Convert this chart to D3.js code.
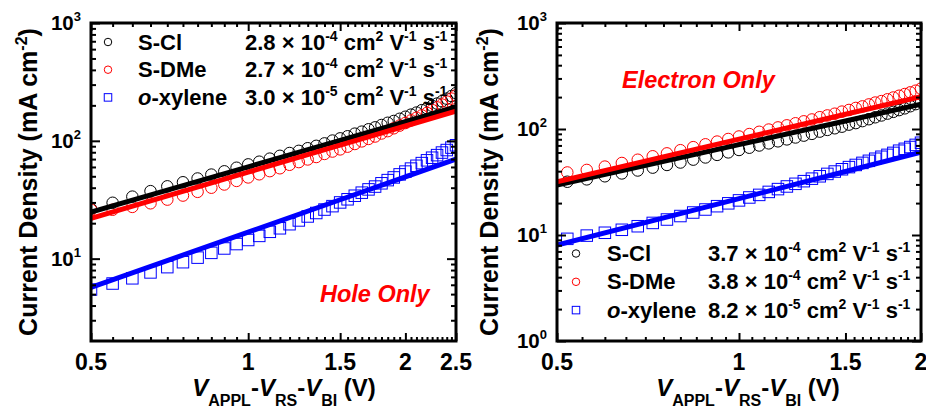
<!DOCTYPE html>
<html><head><meta charset="utf-8">
<script src="https://cdn.jsdelivr.net/npm/d3@7/dist/d3.min.js"></script>
<style>
body{margin:0;background:#fff}
svg text{font-family:"Liberation Sans",Arial,Helvetica,sans-serif;font-weight:bold}
</style></head><body>
<svg id="c" width="926" height="413"></svg>
<script>
// ---------- Hole-only panel data ----------
const holeVoltage = [0.50,0.55,0.60,0.65,0.70,0.75,0.80,0.85,0.90,0.95,1.00,1.05,1.10,1.15,1.20,1.25,1.30,1.35,1.40,1.45,1.50,1.55,1.60,1.65,1.70,1.75,1.80,1.85,1.90,1.95,2.00,2.05,2.10,2.15,2.20,2.25,2.30,2.35,2.40,2.45,2.50];
const holeSCl = [26.5,29.8,33.6,37.4,41.1,44.5,47.9,51.7,55.1,59.1,63.1,66.5,70.6,74.6,78.8,82.2,86.5,90.7,95.1,100.5,104.9,109.3,115.0,119.6,125.3,130.1,136.2,142.3,147.4,153.8,160.1,166.9,173.7,182.1,189.4,198.2,207.1,216.7,228.0,239.9,254.1];
const holeSDMe = [26.0,26.0,27.5,29.5,31.7,34.3,36.9,40.0,42.6,45.7,48.9,52.0,55.3,58.5,62.6,66.0,69.5,72.9,77.4,81.1,84.6,89.2,94.0,98.9,103.8,108.8,115.4,120.8,127.7,134.6,141.6,149.1,156.8,164.3,172.6,182.4,192.2,203.0,215.4,228.2,243.4];
const holeOXylene = [5.47,6.15,6.81,7.64,8.47,9.33,10.2,11.2,12.2,13.3,14.4,15.6,16.9,18.1,19.6,21.1,22.8,24.4,26.1,27.9,30.0,31.9,34.2,36.3,38.7,40.9,43.6,46.4,48.9,51.9,54.8,58.1,61.4,64.7,68.3,71.9,75.6,79.5,83.5,87.6,91.7];
const holeFitVoltage = [0.5,1.0,1.5,2.0,2.5];
const holeFitSCl = [24.8,60.1,100.9,145.5,194];
const holeFitSDMe = [22.0,54.3,92.0,133.6,179];
const holeFitOXylene = [5.70,16.79,31.61,49.39,70.0];

// ---------- Electron-only panel data ----------
const elecVoltage = [0.52,0.56,0.60,0.64,0.68,0.72,0.76,0.80,0.84,0.88,0.92,0.96,1.00,1.04,1.08,1.12,1.16,1.20,1.24,1.28,1.32,1.36,1.40,1.44,1.48,1.52,1.56,1.60,1.64,1.68,1.72,1.76,1.80,1.84,1.88,1.92,1.96,2.00];
const elecSCl = [31.8,33.5,35.8,38.1,40.6,43.2,45.8,48.3,51.4,53.9,57.0,60.2,63.4,66.6,69.9,73.2,76.5,79.8,83.2,86.6,90.0,94.5,98.1,101.6,105.2,110.0,113.7,118.7,123.7,129.0,134.2,139.7,145.2,150.8,156.6,164.0,171.7,179.6];
const elecSDMe = [38.9,41.1,44.2,47.8,51.3,55.3,58.9,63.1,67.4,71.7,76.1,80.5,85.0,89.6,94.1,98.8,103.5,108.3,113.2,118.1,123.0,129.2,134.3,139.4,145.9,151.2,158.0,163.4,170.5,177.6,183.3,190.6,198.2,205.9,213.7,221.7,229.9,240.4];
const elecOXylene = [9.20,9.87,10.5,11.2,12.1,13.0,14.0,15.1,16.3,17.4,18.7,19.9,21.2,22.6,23.9,25.5,27.1,28.7,30.4,32.2,34.0,35.8,37.7,39.7,41.7,43.7,45.8,47.9,50.1,52.4,54.7,57.0,59.5,62.4,65.0,67.6,70.8,74.2];
const elecFitVoltage = [0.5,1.0,1.5,2.0];
const elecFitSCl = [29.6,71.2,118.9,171];
const elecFitSDMe = [31.8,80.2,137.6,202];
const elecFitOXylene = [8.05,22.03,39.7,60.3];

// ---------- labels ----------
const seriesNames = ["S-Cl","S-DMe","o-xylene"];
const seriesColors = ["#000000","#ff0000","#0000ff"];
const seriesShapes = ["circle","circle","square"];
const holeMobility = [["2.8","-4"],["2.7","-4"],["3.0","-5"]];
const elecMobility = [["3.7","-4"],["3.8","-4"],["8.2","-5"]];
const holeXTicks = [0.5,1,1.5,2,2.5];
const holeXTickLabels = ["0.5","1","1.5","2","2.5"];
const elecXTicks = [0.5,1,1.5,2];
const elecXTickLabels = ["0.5","1","1.5","2"];
const holeYExps = [1,2,3];
const elecYExps = [0,1,2,3];

const svg = d3.select("#c");

function rich(sel, parts, size, subSize, shift) {
  let cur = 0;
  parts.forEach(p => {
    const t = sel.append("tspan").text(p.t);
    let target = 0, fs = size;
    if (p.sup) { target = -shift; fs = subSize; }
    if (p.sub) { target = shift * 0.7; fs = subSize; }
    t.attr("font-size", fs);
    if (target !== cur) { t.attr("dy", target - cur); cur = target; }
    if (p.it) t.attr("font-style", "italic");
  });
}

function drawMarker(g, shape, color, cx, cy, size) {
  if (shape === "circle") {
    g.append("circle").attr("cx", cx).attr("cy", cy).attr("r", size / 2)
      .attr("fill", "none").attr("stroke", color).attr("stroke-width", 1);
  } else {
    g.append("rect").attr("x", cx - size / 2).attr("y", cy - size / 2)
      .attr("width", size).attr("height", size)
      .attr("fill", "none").attr("stroke", color).attr("stroke-width", 1);
  }
}

function panel(p) {
  const x = d3.scaleLog().domain(p.xDomain).range([p.x0, p.x1]);
  const y = d3.scaleLog().domain(p.yDomain).range([p.y1, p.y0]);
  const g = svg.append("g");
  const clip = "clip" + p.id;
  svg.append("clipPath").attr("id", clip).append("rect")
    .attr("x", p.x0).attr("y", p.y0).attr("width", p.x1 - p.x0).attr("height", p.y1 - p.y0);
  const data = g.append("g").attr("clip-path", `url(#${clip})`);

  // markers
  p.series.forEach((s, i) => {
    s.vals.forEach((v, k) => {
      drawMarker(data, seriesShapes[i], seriesColors[i], x(p.volt[k]), y(v), 11.5);
    });
  });
  // fit lines
  p.fits.forEach((f, i) => {
    const line = d3.line().x(d => x(d[0])).y(d => y(d[1]));
    data.append("path").datum(p.fitV.map((v, k) => [v, f[k]]))
      .attr("d", line).attr("fill", "none").attr("stroke", seriesColors[i])
      .attr("stroke-width", 5);
  });

  // ticks
  const xMinor = d3.range(Math.round(p.xDomain[0] * 20), Math.round(p.xDomain[1] * 20) + 1)
    .map(i => i / 20).filter(v => !p.xTicks.some(t => Math.abs(t - v) < 1e-9));
  const yMinor = [];
  for (let e = -1; e <= 3; e++) for (let m = 2; m <= 9; m++) {
    const v = m * Math.pow(10, e);
    if (v > p.yDomain[0] * 1.0001 && v < p.yDomain[1]) yMinor.push(v);
  }
  const yMajor = p.yExps.map(e => Math.pow(10, e));
  const axes = g.append("g").attr("stroke", "#000").attr("stroke-width", 2);
  function tk(sel, ticks, len) {
    sel.call(d3.axisBottom(x).tickValues(ticks).tickSizeInner(-len).tickSizeOuter(0).tickFormat(""));
    sel.select(".domain").remove();
    sel.selectAll("line").attr("stroke-width", 2);
  }
  tk(axes.append("g").attr("transform", `translate(0,${p.y1})`), xMinor, 4);
  tk(axes.append("g").attr("transform", `translate(0,${p.y1})`), p.xTicks, 8);
  function tkTop(sel, ticks, len) {
    sel.call(d3.axisTop(x).tickValues(ticks).tickSizeInner(-len).tickSizeOuter(0).tickFormat(""));
    sel.select(".domain").remove();
    sel.selectAll("line").attr("stroke-width", 2);
  }
  tkTop(axes.append("g").attr("transform", `translate(0,${p.y0})`), xMinor, 4);
  tkTop(axes.append("g").attr("transform", `translate(0,${p.y0})`), p.xTicks, 8);
  function tkY(axisFn, tx, ticks, len) {
    const s = axes.append("g").attr("transform", `translate(${tx},0)`)
      .call(axisFn(y).tickValues(ticks).tickSizeInner(-len).tickSizeOuter(0).tickFormat(""));
    s.select(".domain").remove();
    s.selectAll("line").attr("stroke-width", 2);
  }
  tkY(d3.axisLeft, p.x0, yMinor, 5);
  tkY(d3.axisLeft, p.x0, yMajor, 9);
  tkY(d3.axisRight, p.x1, yMinor, 5);
  tkY(d3.axisRight, p.x1, yMajor, 9);

  g.append("rect").attr("x", p.x0).attr("y", p.y0).attr("width", p.x1 - p.x0)
    .attr("height", p.y1 - p.y0).attr("fill", "none").attr("stroke", "#000").attr("stroke-width", 3);

  // tick labels
  p.xTicks.forEach((v, i) => {
    g.append("text").attr("x", x(v)).attr("y", p.y1 + 29).attr("text-anchor", "middle")
      .attr("font-size", 23).text(p.xLabels[i]);
  });
  p.yExps.forEach(e => {
    const t = g.append("text").attr("x", p.x0 - 10).attr("y", y(Math.pow(10, e)) + 7)
      .attr("text-anchor", "end").attr("font-size", 20.5);
    t.append("tspan").text("10");
    t.append("tspan").attr("dy", -9).attr("font-size", 13).text(String(e));
  });

  // axis titles
  const yt = g.append("text").attr("transform", `translate(${p.yTitleX},${(p.y0 + p.y1) / 2}) rotate(-90)`)
    .attr("text-anchor", "middle");
  rich(yt, [{t: "Current Density (mA cm"}, {t: "-2", sup: true}, {t: ")"}], 25, 16, 10);
  const xt = g.append("text").attr("x", p.xTitleX).attr("y", 396).attr("text-anchor", "middle");
  rich(xt, [{t: "V", it: true}, {t: "APPL", sub: true}, {t: "-"}, {t: "V", it: true}, {t: "RS", sub: true},
            {t: "-"}, {t: "V", it: true}, {t: "BI", sub: true}, {t: " (V)"}], 24, 16, 14);

  // legend
  seriesNames.forEach((n, i) => {
    const cy = p.legY + i * p.legDy;
    drawMarker(g, seriesShapes[i], seriesColors[i], p.legSymX, cy, 7.5);
    const nt = g.append("text").attr("x", p.legNameX).attr("y", cy + 7.5).attr("font-size", 22);
    if (n === "o-xylene") { nt.append("tspan").attr("font-style", "italic").text("o"); nt.append("tspan").text("-xylene"); }
    else nt.text(n);
    const vt = g.append("text").attr("x", p.legValX).attr("y", cy + 7.5);
    const m = p.mob[i];
    rich(vt, [{t: m[0] + " \u00d7 10"}, {t: m[1], sup: true}, {t: " cm"}, {t: "2", sup: true},
              {t: " V"}, {t: "-1", sup: true}, {t: " s"}, {t: "-1", sup: true}], 22, 14, 9);
  });

  g.append("text").attr("x", p.noteX).attr("y", p.noteY).attr("font-size", 23.5)
    .attr("font-style", "italic").attr("fill", "#ff0000").text(p.note);
}

panel({
  id: "h", x0: 91, x1: 456, y0: 23, y1: 341, xDomain: [0.5, 2.5], yDomain: [2, 1000],
  volt: holeVoltage, series: [{vals: holeSCl}, {vals: holeSDMe}, {vals: holeOXylene}],
  fitV: holeFitVoltage, fits: [holeFitSCl, holeFitSDMe, holeFitOXylene],
  xTicks: holeXTicks, xLabels: holeXTickLabels, yExps: holeYExps,
  yTitleX: 37, xTitleX: 284,
  legY: 42, legDy: 27.7, legSymX: 108, legNameX: 138, legValX: 245, mob: holeMobility,
  note: "Hole Only", noteX: 320, noteY: 302
});
panel({
  id: "e", x0: 557, x1: 921, y0: 23, y1: 341, xDomain: [0.5, 2.0], yDomain: [1, 1000],
  volt: elecVoltage, series: [{vals: elecSCl}, {vals: elecSDMe}, {vals: elecOXylene}],
  fitV: elecFitVoltage, fits: [elecFitSCl, elecFitSDMe, elecFitOXylene],
  xTicks: elecXTicks, xLabels: elecXTickLabels, yExps: elecYExps,
  yTitleX: 498, xTitleX: 748,
  legY: 253.5, legDy: 28.3, legSymX: 576, legNameX: 607, legValX: 708, mob: elecMobility,
  note: "Electron Only", noteX: 622, noteY: 88
});
</script>
</body></html>
